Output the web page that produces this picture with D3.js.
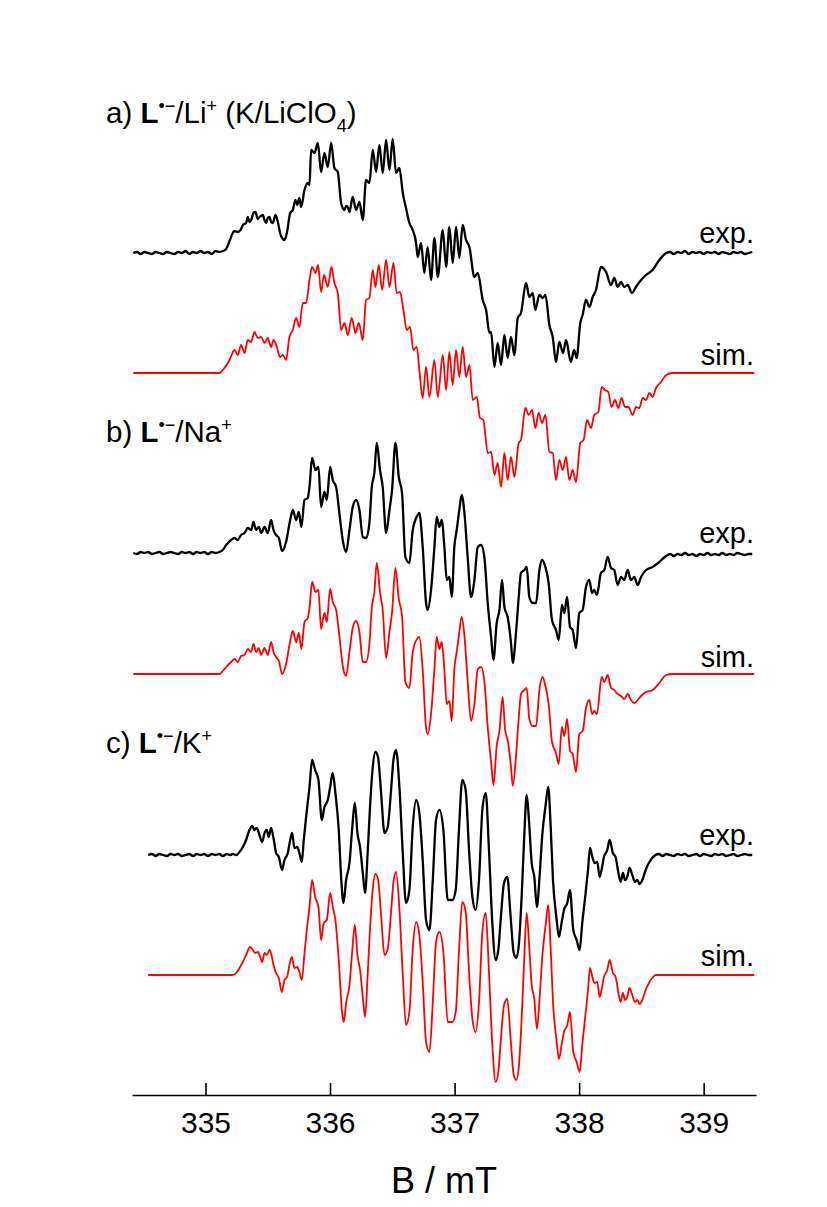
<!DOCTYPE html>
<html>
<head>
<meta charset="utf-8">
<script src="https://cdn.jsdelivr.net/npm/d3@7/dist/d3.min.js"></script>
<style>
  body { margin: 0; background: #fff; }
  text { font-family: "Liberation Sans", Arial, sans-serif; fill: #000; }
</style>
</head>
<body>
<script>
// EPR spectra, B in mT, intensity in arbitrary units (0 = baseline)
var majorTicks = [335, 336, 337, 338, 339];
var minorTicks = [334.5, 335.5, 336.5, 337.5, 338.5];
var axisTitle = 'B / mT';

var aExp = [[334.42,0],[334.45,1],[334.48,-1],[334.51,1],[334.54,0],[334.57,-1],[334.60,1],[334.63,0],[334.66,-1],[334.69,1],[334.72,0],[334.75,-1],[334.78,1],[334.81,0],[334.84,2],[334.87,-1],[334.90,1],[334.93,0],[334.96,2],[334.99,0],[335.02,1],[335.05,-1],[335.08,2],[335.11,1],[335.14,2],[335.166,4],[335.193,12],[335.219,20],[335.233,22],[335.259,21],[335.286,24],[335.300,28],[335.326,30],[335.340,36],[335.353,31],[335.367,33],[335.385,40],[335.401,41],[335.420,34],[335.433,36],[335.447,37],[335.460,38],[335.474,33],[335.487,30],[335.500,35],[335.514,36],[335.527,31],[335.540,30],[335.562,38],[335.581,31],[335.599,20],[335.607,17],[335.634,13],[335.655,21],[335.680,40],[335.701,43],[335.722,53],[335.736,48],[335.754,55],[335.768,46],[335.795,63],[335.821,70],[335.835,68],[335.848,103],[335.875,100],[335.902,110],[335.928,81],[335.955,100],[335.982,86],[336.009,110],[336.035,85],[336.062,81],[336.089,50],[336.116,43],[336.129,47],[336.142,46],[336.156,41],[336.182,56],[336.209,43],[336.236,51],[336.263,33],[336.289,73],[336.316,70],[336.343,103],[336.370,81],[336.396,108],[336.423,80],[336.450,113],[336.477,83],[336.503,114],[336.530,80],[336.557,85],[336.584,60],[336.610,45],[336.637,30],[336.664,23],[336.691,10],[336.704,-4],[336.731,10],[336.757,-20],[336.784,6],[336.811,-27],[336.838,15],[336.865,-24],[336.905,23],[336.932,-14],[336.958,26],[336.985,-10],[337.012,26],[337.038,-5],[337.065,28],[337.092,13],[337.119,6],[337.159,-24],[337.186,-20],[337.226,-47],[337.253,-57],[337.280,-80],[337.293,-79],[337.320,-114],[337.346,-90],[337.373,-112],[337.400,-82],[337.426,-105],[337.453,-84],[337.480,-102],[337.507,-65],[337.533,-60],[337.574,-30],[337.600,-44],[337.627,-40],[337.648,-57],[337.681,-42],[337.707,-45],[337.729,-42],[337.761,-72],[337.788,-84],[337.814,-109],[337.841,-89],[337.871,-100],[337.895,-87],[337.933,-109],[337.960,-97],[337.980,-105],[338.009,-70],[338.028,-62],[338.055,-47],[338.082,-54],[338.109,-44],[338.135,-37],[338.175,-14],[338.216,-19],[338.256,-32],[338.282,-25],[338.309,-34],[338.336,-29],[338.362,-34],[338.390,-32],[338.424,-40],[338.456,-34],[338.497,-27],[338.537,-22],[338.590,-17],[338.644,-7],[338.698,0],[338.73,1],[338.76,-1],[338.79,1],[338.82,0],[338.85,2],[338.88,-1],[338.91,1],[338.94,0],[338.97,1],[339.00,-1],[339.03,1],[339.06,0],[339.09,1],[339.12,-1],[339.15,1],[339.18,0],[339.21,-1],[339.24,1],[339.27,0],[339.30,1],[339.33,-1],[339.36,0],[339.39,1]];

var aSim = [[334.42,0],[335.112,0],[335.139,3],[335.193,13],[335.233,23],[335.259,18],[335.286,28],[335.313,20],[335.340,33],[335.367,31],[335.393,41],[335.420,35],[335.447,36],[335.474,30],[335.500,35],[335.527,26],[335.546,33],[335.573,26],[335.599,16],[335.621,18],[335.647,13],[335.674,36],[335.701,43],[335.728,55],[335.754,46],[335.781,70],[335.808,70],[335.835,93],[335.856,106],[335.883,100],[335.904,108],[335.928,81],[335.952,98],[335.982,86],[336.011,106],[336.035,90],[336.062,80],[336.089,43],[336.116,50],[336.142,38],[336.174,55],[336.204,40],[336.231,50],[336.263,33],[336.289,73],[336.316,75],[336.343,103],[336.364,86],[336.391,108],[336.418,83],[336.450,113],[336.477,86],[336.509,110],[336.535,80],[336.562,81],[336.589,63],[336.616,43],[336.643,46],[336.669,23],[336.696,26],[336.717,3],[336.744,-25],[336.771,6],[336.798,-24],[336.838,13],[336.865,-24],[336.905,18],[336.932,-17],[336.958,21],[336.985,-12],[337.012,23],[337.038,-4],[337.065,26],[337.092,-4],[337.119,8],[337.146,-27],[337.178,-24],[337.204,-45],[337.231,-47],[337.266,-80],[337.293,-79],[337.320,-102],[337.346,-90],[337.373,-114],[337.400,-80],[337.426,-107],[337.453,-84],[337.480,-104],[337.515,-70],[337.533,-67],[337.568,-35],[337.595,-42],[337.622,-37],[337.648,-55],[337.675,-40],[337.702,-50],[337.729,-42],[337.761,-79],[337.788,-80],[337.814,-107],[337.841,-87],[337.868,-97],[337.895,-84],[337.921,-107],[337.948,-97],[337.975,-109],[338.009,-70],[338.036,-67],[338.063,-47],[338.095,-55],[338.121,-42],[338.154,-39],[338.181,-14],[338.207,-17],[338.234,-19],[338.261,-34],[338.288,-27],[338.314,-35],[338.341,-25],[338.368,-34],[338.395,-34],[338.430,-42],[338.456,-34],[338.483,-35],[338.510,-25],[338.537,-27],[338.564,-20],[338.590,-24],[338.617,-15],[338.658,-9],[338.698,-2],[338.751,0],[339.406,0]];

var bExp = [[334.42,0],[334.45,-1],[334.48,1],[334.51,0],[334.54,1],[334.57,-1],[334.60,0],[334.63,1],[334.66,-1],[334.69,0],[334.72,1],[334.75,0],[334.78,-1],[334.81,1],[334.84,0],[334.87,1],[334.90,-1],[334.93,1],[334.96,0],[334.99,1],[335.02,-1],[335.05,1],[335.08,0],[335.112,1],[335.139,3],[335.166,8],[335.206,13],[335.233,15],[335.259,13],[335.286,18],[335.313,20],[335.340,25],[335.367,23],[335.385,31],[335.407,23],[335.428,26],[335.447,20],[335.474,26],[335.500,20],[335.527,33],[335.546,23],[335.567,18],[335.589,15],[335.615,2],[335.647,11],[335.680,33],[335.701,43],[335.728,33],[335.749,41],[335.770,26],[335.795,53],[335.821,55],[335.835,66],[335.856,95],[335.883,83],[335.907,86],[335.928,46],[335.955,61],[335.974,53],[336.001,86],[336.022,73],[336.049,66],[336.075,40],[336.102,13],[336.129,1],[336.156,23],[336.182,46],[336.209,53],[336.236,43],[336.263,16],[336.289,15],[336.316,30],[336.335,66],[336.356,80],[336.375,110],[336.401,83],[336.423,66],[336.450,20],[336.477,43],[336.498,63],[336.525,110],[336.552,76],[336.578,60],[336.605,-4],[336.637,-10],[336.664,23],[336.704,38],[336.717,40],[336.744,6],[336.771,-50],[336.784,-57],[336.811,-37],[336.838,6],[336.856,36],[336.878,26],[336.897,33],[336.918,6],[336.937,-27],[336.958,-24],[336.977,-44],[336.998,6],[337.017,23],[337.038,43],[337.057,58],[337.079,40],[337.105,-4],[337.132,-44],[337.159,-27],[337.186,6],[337.213,8],[337.239,-4],[337.266,-50],[337.293,-84],[337.312,-107],[337.338,-70],[337.360,-57],[337.381,-27],[337.400,-54],[337.426,-64],[337.453,-90],[337.467,-110],[337.493,-80],[337.515,-44],[337.533,-20],[337.560,-17],[337.579,-14],[337.600,-44],[337.627,-50],[337.654,-50],[337.681,-17],[337.702,-7],[337.729,-14],[337.755,-30],[337.782,-67],[337.814,-77],[337.836,-87],[337.862,-52],[337.881,-60],[337.903,-44],[337.927,-74],[337.948,-77],[337.975,-95],[338.001,-60],[338.028,-57],[338.055,-34],[338.082,-27],[338.103,-40],[338.121,-37],[338.143,-42],[338.175,-20],[338.202,-17],[338.229,-4],[338.256,-15],[338.282,-17],[338.309,-32],[338.336,-24],[338.362,-27],[338.390,-17],[338.416,-27],[338.443,-24],[338.470,-32],[338.497,-24],[338.537,-17],[338.590,-14],[338.644,-9],[338.698,-3],[338.73,-1],[338.76,-3],[338.79,-1],[338.82,-2],[338.85,0],[338.88,-2],[338.91,-1],[338.94,-3],[338.97,-1],[339.00,-2],[339.03,0],[339.06,-2],[339.09,-1],[339.12,-2],[339.15,0],[339.18,-2],[339.21,-1],[339.24,-2],[339.27,0],[339.30,-1],[339.33,-2],[339.36,-1],[339.39,-1]];

var bSim = [[334.42,0],[335.112,0],[335.139,3],[335.166,7],[335.206,12],[335.233,15],[335.259,12],[335.286,18],[335.313,19],[335.340,25],[335.367,22],[335.385,30],[335.407,22],[335.428,26],[335.447,19],[335.474,26],[335.500,19],[335.527,32],[335.546,22],[335.567,17],[335.589,13],[335.615,0],[335.647,10],[335.680,33],[335.701,43],[335.728,32],[335.749,41],[335.770,25],[335.795,52],[335.821,56],[335.835,66],[335.856,92],[335.883,82],[335.907,84],[335.928,45],[335.955,61],[335.974,52],[336.001,85],[336.022,72],[336.049,64],[336.075,38],[336.102,8],[336.129,-2],[336.156,22],[336.182,46],[336.209,53],[336.236,42],[336.263,12],[336.289,12],[336.316,30],[336.335,66],[336.356,82],[336.375,111],[336.401,82],[336.423,64],[336.450,16],[336.477,42],[336.498,62],[336.525,106],[336.552,75],[336.578,58],[336.605,-8],[336.637,-14],[336.664,22],[336.704,36],[336.717,37],[336.744,4],[336.771,-54],[336.784,-60],[336.811,-40],[336.838,5],[336.856,37],[336.878,25],[336.897,32],[336.918,4],[336.937,-30],[336.958,-27],[336.977,-47],[336.998,5],[337.017,22],[337.038,42],[337.057,57],[337.079,38],[337.105,-7],[337.132,-47],[337.159,-30],[337.186,5],[337.213,7],[337.239,-7],[337.266,-53],[337.293,-88],[337.312,-111],[337.338,-72],[337.360,-57],[337.386,-23],[337.405,-55],[337.426,-66],[337.453,-93],[337.467,-112],[337.493,-82],[337.515,-44],[337.533,-20],[337.560,-16],[337.579,-14],[337.600,-45],[337.627,-52],[337.654,-52],[337.681,-16],[337.707,-3],[337.729,-12],[337.755,-30],[337.782,-68],[337.814,-79],[337.836,-90],[337.862,-53],[337.881,-62],[337.903,-45],[337.927,-77],[337.948,-80],[337.975,-98],[338.001,-60],[338.028,-57],[338.055,-34],[338.082,-26],[338.103,-40],[338.121,-37],[338.143,-40],[338.181,-3],[338.202,-8],[338.229,-1],[338.256,-14],[338.282,-16],[338.300,-19],[338.336,-22],[338.362,-25],[338.390,-20],[338.416,-26],[338.443,-29],[338.470,-26],[338.497,-22],[338.537,-18],[338.590,-16],[338.644,-9],[338.698,-1],[338.751,0],[339.406,0]];

var cExp = [[334.54,0],[334.57,1],[334.60,-1],[334.63,1],[334.66,0],[334.69,-1],[334.72,1],[334.75,0],[334.78,1],[334.81,-1],[334.84,0],[334.87,1],[334.90,-1],[334.93,1],[334.96,0],[334.99,1],[335.02,-1],[335.05,1],[335.08,0],[335.11,1],[335.14,-1],[335.17,1],[335.20,0],[335.22,1],[335.246,0],[335.273,3],[335.300,8],[335.326,15],[335.353,25],[335.375,29],[335.393,25],[335.412,27],[335.433,20],[335.455,13],[335.474,22],[335.492,25],[335.508,18],[335.527,27],[335.546,17],[335.567,2],[335.589,-2],[335.615,-15],[335.634,-5],[335.661,2],[335.680,15],[335.696,22],[335.714,7],[335.736,8],[335.754,2],[335.773,-7],[335.789,15],[335.808,38],[335.835,68],[335.856,95],[335.880,85],[335.907,75],[335.934,35],[335.955,48],[335.982,55],[336.001,68],[336.022,82],[336.043,62],[336.070,25],[336.089,-22],[336.108,-48],[336.129,-25],[336.156,-8],[336.177,25],[336.199,52],[336.220,22],[336.241,8],[336.263,-18],[336.281,-38],[336.302,2],[336.321,48],[336.343,88],[336.364,103],[336.385,98],[336.410,62],[336.437,22],[336.463,28],[336.490,65],[336.509,95],[336.530,105],[336.557,68],[336.584,2],[336.610,-48],[336.637,-35],[336.664,28],[336.691,55],[336.717,42],[336.744,-5],[336.771,-65],[336.798,-75],[336.825,-25],[336.851,35],[336.878,45],[336.910,25],[336.945,-45],[336.982,-45],[337.009,-35],[337.035,25],[337.062,75],[337.089,65],[337.116,5],[337.143,-42],[337.169,-55],[337.196,-25],[337.223,45],[337.250,62],[337.276,5],[337.303,-68],[337.330,-105],[337.351,-95],[337.370,-65],[337.397,-28],[337.423,-22],[337.450,-62],[337.475,-98],[337.496,-103],[337.517,-88],[337.539,-40],[337.558,15],[337.579,60],[337.597,35],[337.619,-8],[337.640,-22],[337.661,-52],[337.683,-20],[337.704,20],[337.731,50],[337.752,68],[337.771,30],[337.790,-25],[337.817,-62],[337.838,-82],[337.859,-68],[337.878,-55],[337.905,-48],[337.926,-35],[337.953,-75],[337.980,-85],[338.004,-95],[338.025,-68],[338.052,-38],[338.071,-15],[338.087,7],[338.106,-2],[338.124,-8],[338.146,-7],[338.164,-22],[338.180,-15],[338.199,-2],[338.226,5],[338.245,15],[338.271,2],[338.293,-2],[338.314,-17],[338.333,-27],[338.352,-18],[338.368,-25],[338.386,-22],[338.405,-13],[338.427,-20],[338.448,-27],[338.467,-25],[338.485,-29],[338.507,-25],[338.534,-15],[338.560,-8],[338.587,-3],[338.614,0],[338.64,1],[338.67,-1],[338.70,1],[338.73,0],[338.76,-1],[338.79,1],[338.82,0],[338.85,1],[338.88,-1],[338.91,0],[338.94,1],[338.97,-1],[339.00,1],[339.03,0],[339.06,-1],[339.09,1],[339.12,0],[339.15,1],[339.18,-1],[339.21,0],[339.24,1],[339.27,-1],[339.30,0],[339.33,1],[339.36,0],[339.39,0]];

var cSim = [[334.54,0],[335.219,0],[335.246,2],[335.273,7],[335.300,13],[335.326,20],[335.358,28],[335.380,25],[335.401,22],[335.420,23],[335.439,18],[335.455,13],[335.474,22],[335.492,20],[335.514,25],[335.530,20],[335.546,10],[335.567,2],[335.589,-3],[335.613,-17],[335.634,-5],[335.655,-2],[335.674,10],[335.693,18],[335.714,7],[335.736,8],[335.754,3],[335.773,-5],[335.795,22],[335.816,48],[335.835,68],[335.856,95],[335.880,78],[335.907,68],[335.928,35],[335.950,52],[335.974,55],[336.001,82],[336.022,68],[336.043,55],[336.070,15],[336.097,-38],[336.110,-47],[336.129,-28],[336.156,-10],[336.177,22],[336.199,50],[336.220,20],[336.241,5],[336.263,-22],[336.281,-42],[336.302,0],[336.321,46],[336.343,86],[336.364,101],[336.385,96],[336.410,60],[336.437,20],[336.463,26],[336.490,63],[336.509,93],[336.530,103],[336.557,66],[336.584,0],[336.610,-50],[336.637,-37],[336.664,26],[336.691,53],[336.717,40],[336.744,-7],[336.771,-67],[336.798,-77],[336.825,-27],[336.851,33],[336.878,43],[336.910,23],[336.945,-47],[336.982,-47],[337.009,-37],[337.035,23],[337.062,73],[337.089,63],[337.116,3],[337.143,-44],[337.169,-57],[337.196,-27],[337.223,43],[337.250,62],[337.276,3],[337.303,-70],[337.330,-107],[337.351,-97],[337.370,-67],[337.397,-30],[337.423,-24],[337.450,-64],[337.475,-100],[337.496,-105],[337.517,-90],[337.539,-42],[337.558,13],[337.579,62],[337.597,33],[337.619,-10],[337.640,-24],[337.661,-54],[337.683,-22],[337.704,18],[337.731,50],[337.752,70],[337.771,28],[337.790,-27],[337.817,-64],[337.838,-84],[337.859,-70],[337.878,-57],[337.905,-50],[337.926,-37],[337.953,-77],[337.980,-87],[338.004,-97],[338.025,-70],[338.052,-38],[338.071,-15],[338.087,7],[338.106,-2],[338.124,-8],[338.146,-7],[338.164,-22],[338.180,-15],[338.199,-2],[338.226,5],[338.245,15],[338.271,2],[338.293,-2],[338.314,-17],[338.333,-27],[338.352,-18],[338.368,-25],[338.386,-22],[338.405,-13],[338.427,-20],[338.448,-27],[338.467,-25],[338.485,-29],[338.507,-25],[338.534,-15],[338.560,-8],[338.587,-3],[338.614,0],[339.406,0]];

var W = 827, H = 1207;
var svg = d3.select('body').append('svg')
  .attr('width', W)
  .attr('height', H)
  .style('background', '#fff');

var x = d3.scaleLinear().domain([334.41, 339.42]).range([132, 756]);

var traces = [
  { data: aExp, base: 253, color: '#000', width: 2.3 },
  { data: aSim, base: 373, color: '#ff0000', width: 1.8 },
  { data: bExp, base: 553, color: '#000', width: 2.3 },
  { data: bSim, base: 674, color: '#ff0000', width: 1.8 },
  { data: cExp, base: 855, color: '#000', width: 2.3 },
  { data: cSim, base: 975, color: '#ff0000', width: 1.8 }
];

traces.forEach(function (t) {
  var y = d3.scaleLinear().domain([0, 100]).range([t.base, t.base - 100]);
  var line = d3.line()
    .x(function (d) { return x(d[0]); })
    .y(function (d) { return y(d[1]); })
    .curve(d3.curveMonotoneX);
  svg.append('path')
    .datum(t.data)
    .attr('d', line)
    .attr('fill', 'none')
    .attr('stroke', t.color)
    .attr('stroke-width', t.width)
    .attr('stroke-linejoin', 'round');
});

// exp./sim. tags
var tags = [['exp.', 243], ['sim.', 365], ['exp.', 543], ['sim.', 667], ['exp.', 845], ['sim.', 966]];
tags.forEach(function (t) {
  svg.append('text')
    .attr('x', 754).attr('y', t[1])
    .attr('text-anchor', 'end')
    .style('font-size', '29px')
    .text(t[0]);
});

// panel titles
function title(letter, ion, yPos, extra) {
  var txt = svg.append('text').attr('x', 106).attr('y', yPos).style('font-size', '29.5px');
  txt.append('tspan').text(letter + ') ');
  txt.append('tspan').style('font-weight', 'bold').text('L');
  txt.append('tspan').style('font-size', '18px').attr('dy', -11).text('\u2022\u2212');
  txt.append('tspan').attr('dy', 11).text('/' + ion);
  txt.append('tspan').style('font-size', '18px').attr('dy', -11).text('+');
  if (extra) {
    txt.append('tspan').attr('dy', 11).text(' (K/LiClO');
    txt.append('tspan').style('font-size', '18px').attr('dy', 9).text('4');
    txt.append('tspan').attr('dy', -9).text(')');
  }
}
title('a', 'Li', 123, true);
title('b', 'Na', 442, false);
title('c', 'K', 753, false);

// x axis
var axisG = svg.append('g').attr('transform', 'translate(0,1095)');
axisG.call(d3.axisBottom(x)
  .tickValues(minorTicks)
  .tickFormat('')
  .tickSize(-7)
  .tickSizeOuter(0));
axisG.call(d3.axisBottom(x)
  .tickValues(majorTicks)
  .tickFormat(d3.format('d'))
  .tickSize(-12)
  .tickSizeOuter(0)
  .tickPadding(17));
axisG.selectAll('path.domain').attr('stroke', '#000').attr('stroke-width', 1.6);
axisG.selectAll('line').attr('stroke', '#000').attr('stroke-width', 1.6);
axisG.selectAll('text')
  .style('font-family', '"Liberation Sans", Arial, sans-serif')
  .style('font-size', '30px')
  .attr('fill', '#000');

svg.append('text')
  .attr('x', 444).attr('y', 1193)
  .attr('text-anchor', 'middle')
  .style('font-size', '36px')
  .text(axisTitle);
</script>
</body>
</html>
